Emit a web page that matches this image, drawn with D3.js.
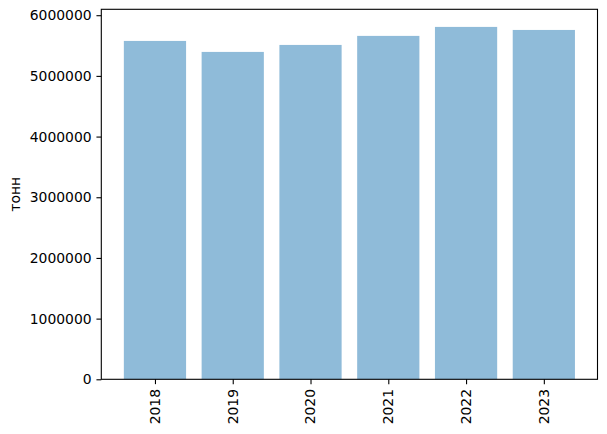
<!DOCTYPE html>
<html><head><meta charset="utf-8">
<script src="https://cdn.jsdelivr.net/npm/d3@7"></script>
<style>
body{margin:0;background:#fff;}
svg{display:block;font-family:"DejaVu Sans",sans-serif;}
</style></head>
<body>
<script>
const categories = ["2018","2019","2020","2021","2022","2023"];
const values = [5576000,5395000,5510000,5659000,5807000,5757000];
const yTicks = [0,1000000,2000000,3000000,4000000,5000000,6000000];
const yLabel = "тонн";

const W=607,H=434;
const m={left:101.3,right:W-597.5,top:9.3,bottom:H-379.3};
const svg=d3.select("body").append("svg").attr("width",W).attr("height",H);
const iw=W-m.left-m.right, ih=H-m.top-m.bottom;
const g=svg.append("g").attr("transform",`translate(${m.left},${m.top})`);

const n=categories.length;
const x=d3.scaleLinear().domain([-0.4-0.05*(n-1+0.8),(n-1)+0.4+0.05*(n-1+0.8)]).range([0,iw]);
const ymax=d3.max(values)*1.05;
const y=d3.scaleLinear().domain([0,ymax]).range([ih,0]);

g.selectAll("rect.bar").data(values).join("rect").attr("class","bar")
 .attr("x",(d,i)=>x(i-0.4)).attr("width",(d,i)=>x(i+0.4)-x(i-0.4))
 .attr("y",d=>y(d)).attr("height",d=>y(0)-y(d))
 .attr("fill","#1f77b4").attr("fill-opacity",0.5);

const fs="13.9px";
const yAxis=g.append("g").call(d3.axisLeft(y).tickValues(yTicks).tickFormat(d3.format("d")).tickSize(4.86).tickPadding(4.86));
const xAxis=g.append("g").attr("transform",`translate(0,${ih})`)
 .call(d3.axisBottom(x).tickValues(d3.range(n)).tickFormat(i=>categories[i]).tickSize(4.86).tickPadding(4.86));
[yAxis,xAxis].forEach(a=>{a.select(".domain").remove();a.selectAll("line").attr("stroke","#000").attr("stroke-width",1.1);
 a.selectAll("text").attr("fill","#000").style("font-size",fs).style("font-family","DejaVu Sans");});
xAxis.selectAll("text").attr("transform","rotate(-90)").attr("text-anchor","end")
 .attr("x",-9.7).attr("y",0).attr("dy","0.32em");

g.append("rect").attr("x",0).attr("y",0).attr("width",iw).attr("height",ih)
 .attr("fill","none").attr("stroke","#000").attr("stroke-width",1.1);

svg.append("text").attr("transform",`translate(19.5,${m.top+ih/2}) rotate(-90)`)
 .attr("text-anchor","middle").style("font-size",fs).attr("fill","#000").text(yLabel);
</script>
</body></html>
